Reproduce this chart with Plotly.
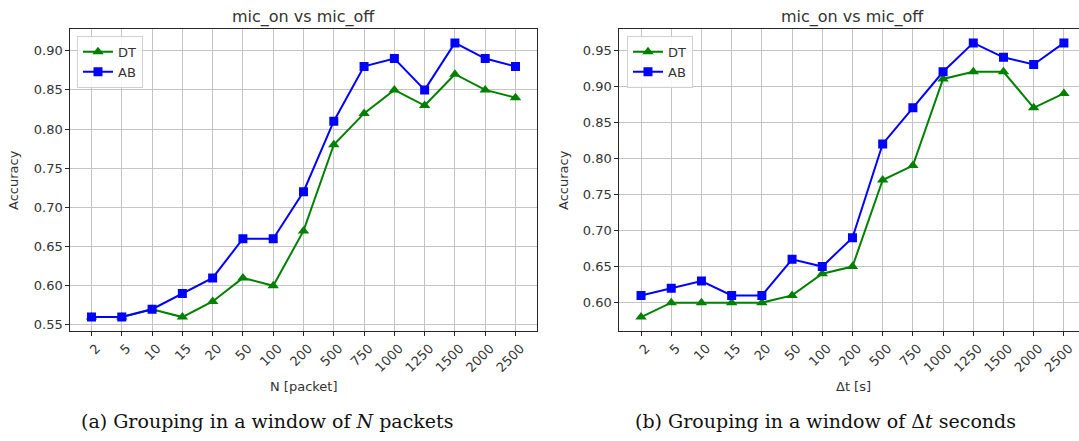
import plotly.graph_objects as go

W, H = 1079, 441

x_labels = ["2", "5", "10", "15", "20", "50", "100", "200", "500", "750",
            "1000", "1250", "1500", "2000", "2500"]

# (a) grouping by N packets
dt_packets = [0.56, 0.56, 0.57, 0.56, 0.58, 0.61, 0.60, 0.67, 0.78, 0.82,
              0.85, 0.83, 0.87, 0.85, 0.84]
ab_packets = [0.56, 0.56, 0.57, 0.59, 0.61, 0.66, 0.66, 0.72, 0.81, 0.88,
              0.89, 0.85, 0.91, 0.89, 0.88]

# (b) grouping by delta t seconds
dt_seconds = [0.58, 0.60, 0.60, 0.60, 0.60, 0.61, 0.64, 0.65, 0.77, 0.79,
              0.91, 0.92, 0.92, 0.87, 0.89]
ab_seconds = [0.61, 0.62, 0.63, 0.61, 0.61, 0.66, 0.65, 0.69, 0.82, 0.87,
              0.92, 0.96, 0.94, 0.93, 0.96]

yticks_a = [0.55, 0.60, 0.65, 0.70, 0.75, 0.80, 0.85, 0.90]
yticks_b = [0.60, 0.65, 0.70, 0.75, 0.80, 0.85, 0.90, 0.95]


def px(x):
    return x / W


def py(y):
    return 1 - y / H


FONT = "DejaVu Sans"
TXT = "#333333"
GREEN = "#008000"
BLUE = "#0000ff"

fig = go.Figure()


def add_series(xaxis, yaxis, legend, dt, ab):
    fig.add_trace(go.Scatter(
        x=x_labels, y=dt, name="DT", mode="lines+markers",
        xaxis=xaxis, yaxis=yaxis, legend=legend,
        line=dict(color=GREEN, width=2),
        marker=dict(symbol="triangle-up", size=10, color=GREEN)))
    fig.add_trace(go.Scatter(
        x=x_labels, y=ab, name="AB", mode="lines+markers",
        xaxis=xaxis, yaxis=yaxis, legend=legend,
        line=dict(color=BLUE, width=2),
        marker=dict(symbol="square", size=9, color=BLUE)))


add_series("x", "y", "legend", dt_packets, ab_packets)
add_series("x2", "y2", "legend2", dt_seconds, ab_seconds)

common_x = dict(type="category", showgrid=True, gridcolor="#c4c4c4", gridwidth=1,
                showline=True, linecolor="#262626", linewidth=1,
                ticks="outside", ticklen=4, tickcolor="#262626",
                tickangle=-45, ticklabelshift=5,
                tickfont=dict(family=FONT, size=13, color=TXT),
                zeroline=False)
common_y = dict(showgrid=True, gridcolor="#c4c4c4", gridwidth=1,
                showline=True, linecolor="#262626", linewidth=1,
                ticks="outside", ticklen=4, tickcolor="#262626",
                tickformat=".2f", tickfont=dict(family=FONT, size=13, color=TXT),
                zeroline=False)

# plot frames in pixels
L_x0, L_x1, top, bot = 70.3, 536.7, 29.3, 332.3
R_x0 = 619.3

fig.update_layout(
    width=W, height=H,
    margin=dict(l=0, r=0, t=0, b=0),
    paper_bgcolor="white", plot_bgcolor="white",
    showlegend=True,
    xaxis=dict(common_x, domain=[px(L_x0), px(L_x1)], range=[-0.7, 14.7],
               mirror=True, anchor="y"),
    yaxis=dict(common_y, domain=[py(bot), py(top)], range=[0.5425, 0.9275],
               tickvals=yticks_a, mirror=True, anchor="x"),
    xaxis2=dict(common_x, domain=[px(R_x0), 1.0], range=[-0.72, 14.5],
                mirror=True, anchor="y2"),
    yaxis2=dict(common_y, domain=[py(bot), py(top)], range=[0.561, 0.979],
                tickvals=yticks_b, mirror=False, anchor="x2"),
    legend=dict(x=px(77), y=py(36), xanchor="left", yanchor="top",
                bgcolor="rgba(255,255,255,0.85)", bordercolor="#d0d0d0",
                borderwidth=1, font=dict(family=FONT, size=13, color=TXT),
                tracegroupgap=0, itemwidth=30),
    legend2=dict(x=px(627), y=py(36), xanchor="left", yanchor="top",
                 bgcolor="rgba(255,255,255,0.85)", bordercolor="#d0d0d0",
                 borderwidth=1, font=dict(family=FONT, size=13, color=TXT),
                 tracegroupgap=0, itemwidth=30),
)

ann = []


def text(x, y, s, size, family=FONT, color=TXT, angle=0):
    ann.append(dict(x=px(x), y=py(y), xref="paper", yref="paper", text=s,
                    showarrow=False, xanchor="center", yanchor="middle",
                    textangle=angle,
                    font=dict(family=family, size=size, color=color)))


text((L_x0 + L_x1) / 2, 17, "mic_on vs mic_off", 16)
text(852, 17, "mic_on vs mic_off", 16)
text((L_x0 + L_x1) / 2, 388, "N [packet]", 13)
text(853, 388, "Δt [s]", 13)
text(14, (top + bot) / 2, "Accuracy", 13, angle=-90)
text(564, (top + bot) / 2, "Accuracy", 13, angle=-90)
text(266.5, 423, "(a) Grouping in a window of <i>N</i> packets", 19,
     family="DejaVu Serif", color="#111111")
text(825.5, 423, "(b) Grouping in a window of Δ<i>t</i> seconds", 19,
     family="DejaVu Serif", color="#111111")

fig.update_layout(annotations=ann)

fig.write_html("out.html")
